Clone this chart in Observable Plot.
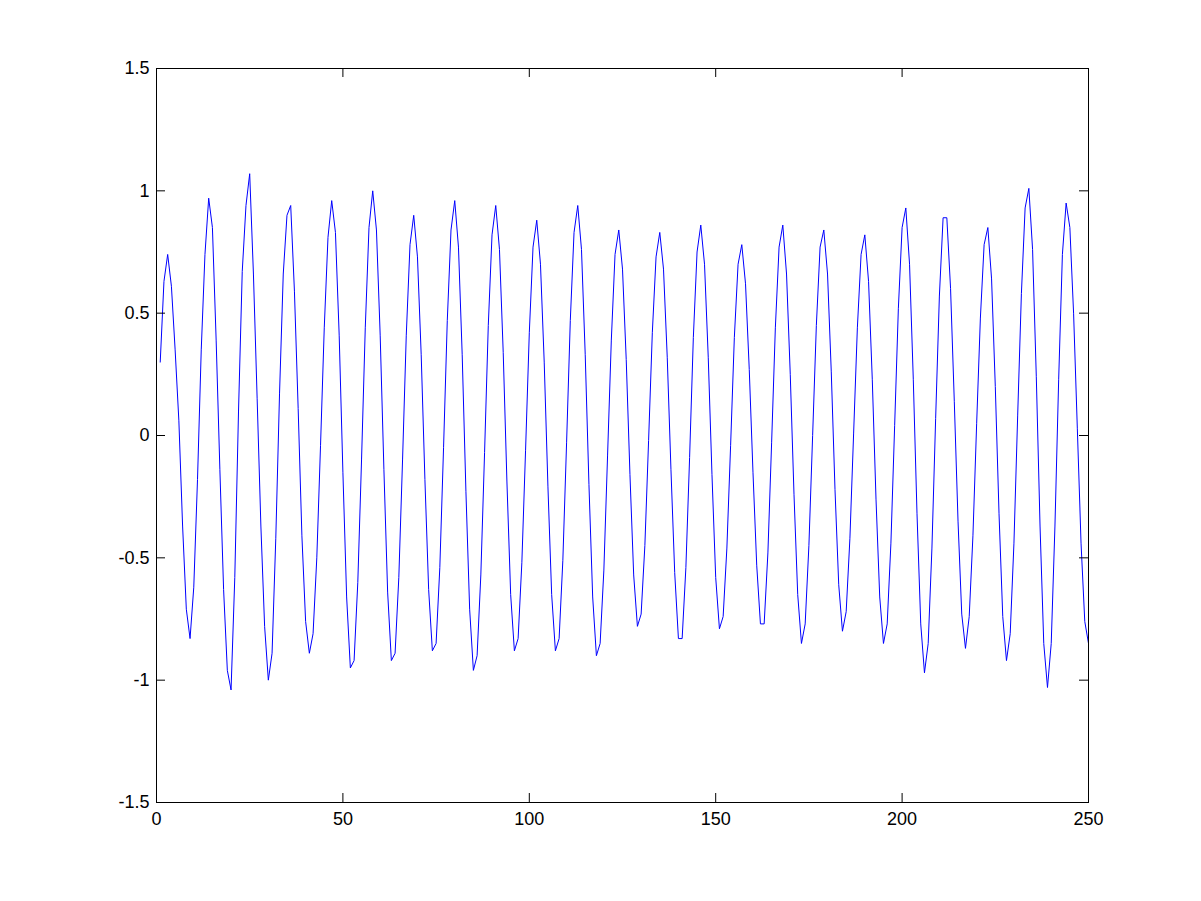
<!DOCTYPE html>
<html>
<head>
<meta charset="utf-8">
<script src="https://cdn.jsdelivr.net/npm/d3@7"></script>
<script src="https://cdn.jsdelivr.net/npm/@observablehq/plot@0.6"></script>
<style>
html, body { margin: 0; padding: 0; background: #fff; overflow: hidden; }
#chart svg { display: block; }
</style>
</head>
<body>
<div id="chart"></div>
<script>
// Signal samples (x = 1 .. 250)
const values = [
  0.30, 0.63, 0.74, 0.61, 0.35, 0.06, -0.37, -0.71, -0.83, -0.62,
  -0.18, 0.35, 0.74, 0.97, 0.85, 0.39, -0.14, -0.63, -0.96, -1.04,
  -0.58, 0.10, 0.67, 0.94, 1.07, 0.66, 0.15, -0.37, -0.78, -1.00,
  -0.89, -0.42, 0.17, 0.66, 0.90, 0.94, 0.59, 0.11, -0.41, -0.76,
  -0.89, -0.81, -0.50, -0.04, 0.44, 0.81, 0.96, 0.83, 0.41, -0.15,
  -0.66, -0.95, -0.92, -0.60, -0.10, 0.44, 0.85, 1.00, 0.84, 0.41,
  -0.14, -0.64, -0.92, -0.89, -0.58, -0.10, 0.41, 0.78, 0.90, 0.73,
  0.33, -0.18, -0.63, -0.88, -0.85, -0.54, -0.05, 0.47, 0.84, 0.96,
  0.77, 0.33, -0.23, -0.71, -0.96, -0.90, -0.57, -0.07, 0.45, 0.82,
  0.94, 0.76, 0.34, -0.19, -0.65, -0.88, -0.83, -0.52, -0.06, 0.42,
  0.77, 0.88, 0.70, 0.30, -0.21, -0.65, -0.88, -0.83, -0.51, -0.03,
  0.47, 0.83, 0.94, 0.76, 0.33, -0.20, -0.66, -0.90, -0.85, -0.55,
  -0.08, 0.39, 0.74, 0.84, 0.68, 0.31, -0.16, -0.57, -0.78, -0.73,
  -0.45, -0.02, 0.42, 0.73, 0.83, 0.68, 0.32, -0.14, -0.56, -0.83,
  -0.83, -0.54, -0.09, 0.40, 0.75, 0.86, 0.70, 0.32, -0.16, -0.58,
  -0.79, -0.74, -0.46, -0.04, 0.40, 0.70, 0.78, 0.62, 0.27, -0.15,
  -0.53, -0.77, -0.77, -0.48, -0.03, 0.44, 0.77, 0.86, 0.66, 0.25,
  -0.24, -0.65, -0.85, -0.77, -0.45, 0.00, 0.45, 0.77, 0.84, 0.66,
  0.26, -0.22, -0.61, -0.80, -0.72, -0.42, 0.01, 0.44, 0.74, 0.82,
  0.63, 0.23, -0.26, -0.66, -0.85, -0.77, -0.44, 0.04, 0.52, 0.85,
  0.93, 0.70, 0.23, -0.32, -0.77, -0.97, -0.85, -0.46, 0.07, 0.57,
  0.89, 0.89, 0.60, 0.14, -0.35, -0.73, -0.87, -0.74, -0.41, 0.05,
  0.48, 0.78, 0.85, 0.64, 0.20, -0.32, -0.74, -0.92, -0.81, -0.44,
  0.08, 0.58, 0.93, 1.01, 0.76, 0.24, -0.37, -0.85, -1.03, -0.85,
  -0.37, 0.23, 0.74, 0.95, 0.85, 0.50, 0.03, -0.44, -0.76, -0.85
];

// Tick values
const xTicks = [0, 50, 100, 150, 200, 250];
const yTicks = [-1.5, -1, -0.5, 0, 0.5, 1, 1.5];
const xDomain = [0, 250];
const yDomain = [-1.5, 1.5];

const data = values.map((v, i) => ({x: i + 1, y: v}));

const W = 1201, H = 901;
const mL = 156, mR = 113, mT = 68, mB = 99;
const frameW = W - mL - mR;
const frameH = H - mT - mB;
const tickLen = 9;

const chart = Plot.plot({
  width: W,
  height: H,
  marginLeft: mL,
  marginRight: mR,
  marginTop: mT,
  marginBottom: mB,
  style: {
    fontFamily: "'Liberation Sans', Arial, Helvetica, sans-serif",
    fontSize: "18px",
    background: "#ffffff",
    color: "#000000",
    overflow: "visible"
  },
  x: {domain: xDomain},
  y: {domain: yDomain},
  marks: [
    Plot.line(data, {x: "x", y: "y", stroke: "#0000ff", strokeWidth: 1}),
    Plot.frame({stroke: "#000000", strokeWidth: 1}),
    Plot.tickX(xTicks, {x: d => d, insetTop: frameH - tickLen, stroke: "#000000"}),
    Plot.tickX(xTicks, {x: d => d, insetBottom: frameH - tickLen, stroke: "#000000"}),
    Plot.tickY(yTicks, {y: d => d, insetRight: frameW - tickLen, stroke: "#000000"}),
    Plot.tickY(yTicks, {y: d => d, insetLeft: frameW - tickLen, stroke: "#000000"}),
    Plot.axisX(xTicks, {tickSize: 0, tickPadding: 10, fontSize: 18, tickFormat: d => String(d), label: null}),
    Plot.axisY(yTicks, {tickSize: 0, tickPadding: 7, fontSize: 18, tickFormat: d => String(d), label: null})
  ]
});

document.getElementById("chart").appendChild(chart);
</script>
</body>
</html>
